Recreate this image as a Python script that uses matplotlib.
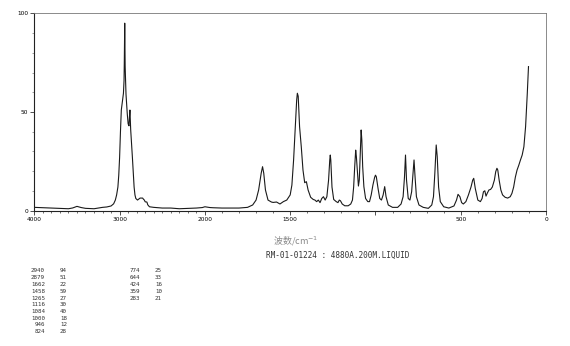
import numpy as np
import matplotlib.pyplot as plt
from matplotlib.ticker import FixedLocator, NullFormatter

# Raman spectrum (wavenumber cm-1, relative intensity)
wavenumber = [
    4000, 3900, 3800, 3700, 3600, 3550, 3500, 3450, 3400, 3300, 3200, 3150, 3100,
    3070, 3050, 3035, 3020, 3010, 3000, 2990, 2980, 2965, 2955, 2948, 2945, 2942,
    2940, 2938, 2935, 2925, 2910, 2900, 2890, 2884, 2879, 2875, 2870, 2860, 2850,
    2840, 2830, 2820, 2810, 2790, 2760, 2730, 2720, 2710, 2700, 2680, 2670, 2650,
    2600, 2500, 2400, 2300, 2200, 2100, 2030, 2000, 1970, 1950, 1900, 1800, 1750,
    1720, 1700, 1685, 1670, 1662, 1655, 1645, 1630, 1610, 1600, 1580, 1560, 1540,
    1520, 1500, 1490, 1480, 1470, 1462, 1458, 1453, 1445, 1435, 1425, 1415, 1405,
    1395, 1380, 1365, 1355, 1345, 1335, 1325, 1315, 1305, 1295, 1285, 1275, 1268,
    1265, 1262, 1255, 1245, 1230, 1220, 1212, 1205, 1195, 1180, 1160, 1145, 1135,
    1128, 1122, 1116, 1112, 1105, 1100, 1095, 1090, 1084, 1080, 1075, 1068, 1058,
    1045, 1035, 1025, 1015, 1005, 1000, 995, 985, 975, 965, 955, 946, 938,
    925, 900, 870, 850, 838, 830, 824, 818, 808, 798, 788, 780, 774,
    768, 760, 745, 720, 690, 670, 660, 652, 644, 638, 630, 620, 600,
    570, 540, 525, 516, 505, 495, 485, 470, 455, 440, 430, 424, 415,
    400, 385, 375, 367, 359, 352, 345, 335, 325, 315, 303, 295, 288,
    283, 275, 265, 255, 240, 225, 210, 200, 190, 180, 170, 160, 150,
    140, 130, 120, 110, 103,
]
intensity = [
    1.7, 1.5, 1.35, 1.2, 1.0, 1.4, 2.2, 1.6, 1.2, 1.0, 1.7, 1.9, 2.4,
    3.5, 5.4, 8.0, 12.0, 18.0, 27.0, 40.0, 51.0, 56.0, 59.5, 66.0, 75.0, 88.0,
    95.0, 86.0, 73.0, 59.0, 49.0, 44.0, 43.0, 48.0, 51.0, 46.0, 41.0, 34.0, 27.0,
    19.0, 12.0, 8.0, 6.2, 5.4, 6.4, 6.4, 5.8, 5.4, 4.5, 4.4, 3.0, 2.0,
    1.7, 1.35, 1.35, 1.0, 1.2, 1.35, 1.6, 2.0, 1.6, 1.5, 1.35, 1.35, 1.7,
    2.9, 5.4, 10.5, 19.0, 22.3, 19.0, 10.5, 5.4, 4.4, 4.2, 4.4, 3.4, 4.6,
    5.4, 8.0, 13.0, 25.7, 42.6, 56.0, 59.5, 58.0, 42.6, 32.4, 20.6, 14.2, 14.7,
    10.5, 6.8, 5.7, 5.4, 4.6, 5.4, 4.1, 6.2, 7.1, 5.4, 7.1, 15.5, 25.7,
    28.2, 25.7, 12.0, 5.7, 4.6, 4.1, 5.4, 5.0, 3.4, 2.5, 2.5, 3.4, 5.4,
    12.0, 22.0, 30.7, 27.4, 19.0, 12.5, 15.5, 27.4, 40.9, 35.8, 22.3, 12.2, 6.2,
    4.6, 4.6, 8.0, 13.0, 16.9, 18.0, 17.2, 11.3, 6.2, 5.4, 8.0, 12.2, 7.1,
    2.9, 1.7, 1.7, 3.4, 7.1, 17.0, 28.2, 15.5, 6.2, 5.4, 9.6, 19.0, 25.7,
    17.2, 7.1, 2.9, 1.7, 1.2, 2.9, 7.1, 19.0, 33.3, 27.4, 12.0, 4.6, 2.0,
    1.35, 2.4, 5.4, 8.3, 7.1, 4.1, 3.4, 4.6, 8.0, 12.0, 15.5, 16.4, 11.3,
    5.4, 4.6, 6.2, 9.6, 10.1, 7.4, 8.8, 10.5, 10.8, 12.0, 15.5, 19.8, 21.5,
    20.6, 15.5, 10.5, 8.0, 6.8, 6.4, 7.1, 8.8, 12.0, 17.0, 20.6, 23.0, 25.7,
    28.2, 32.4, 42.6, 59.5, 73.0,
]

# peak list printed under the chart
peak_wn = [2940, 2879, 1662, 1458, 1265, 1116, 1084, 1000, 946, 824,
           774, 644, 424, 359, 283]
peak_int = [94, 51, 22, 59, 27, 30, 40, 18, 12, 28, 25, 33, 16, 10, 21]

major_ticks = [4000, 3000, 2000, 1500, 1000, 500, 0]
major_labels = ["4000", "3000", "2000", "1500", "", "500", "0"]


def fwd(w):
    # region above 2000 cm-1 is drawn at half scale
    w = np.asarray(w, dtype=float)
    return np.where(w <= 2000, w, 2000 + (w - 2000) / 2)


def inv(u):
    u = np.asarray(u, dtype=float)
    return np.where(u <= 2000, u, 2000 + 2 * (u - 2000))


fig = plt.figure(figsize=(5.7, 3.46), dpi=100)
ax = fig.add_axes([0.0602, 0.391, 0.8978, 0.5706])

ax.plot(wavenumber, intensity, color="#1a1a1a", linewidth=0.8)

ax.set_xscale("function", functions=(fwd, inv))
ax.set_xlim(4000, 0)
ax.set_ylim(0, 100)

ax.xaxis.set_major_locator(FixedLocator(major_ticks))
ax.set_xticklabels(major_labels)
ax.xaxis.set_minor_locator(FixedLocator(np.arange(0, 4001, 100)))
ax.xaxis.set_minor_formatter(NullFormatter())
ax.set_yticks([0, 50, 100])
ax.yaxis.set_minor_locator(FixedLocator(np.arange(0, 101, 10)))

ax.tick_params(axis="both", which="major", labelsize=4.2, length=3,
               width=0.6, pad=1.5, color="#333333")
ax.tick_params(axis="x", which="minor", length=1.5, width=0.5,
               color="#333333")
ax.tick_params(axis="y", which="minor", length=1.2, width=0.4,
               color="#555555")
for side in ["top", "right"]:
    ax.spines[side].set_color("#777777")
    ax.spines[side].set_linewidth(0.6)
for side in ["left", "bottom"]:
    ax.spines[side].set_color("#222222")
    ax.spines[side].set_linewidth(0.8)


def px(x, y):
    return x / 570, 1 - y / 346


fig.text(*px(296, 241), "波数/cm$^{-1}$", ha="center", va="center",
         fontsize=6.5, color="#8a8a8a",
         family=["Noto Sans CJK SC", "DejaVu Sans"])
fig.text(*px(338, 255), "RM-01-01224 : 4880A.200M.LIQUID", ha="center",
         va="center", fontsize=5.6, color="#333333", family="DejaVu Sans Mono")

for i, (w, v) in enumerate(zip(peak_wn, peak_int)):
    col = i // 10
    row = i % 10
    y = 271 + row * 6.75
    x0 = 45 + col * 95
    fig.text(*px(x0, y), str(w), ha="right", va="center", fontsize=4.2,
             color="#333333", family="DejaVu Sans Mono")
    fig.text(*px(x0 + 15, y), str(v), ha="left", va="center", fontsize=4.2,
             color="#333333", family="DejaVu Sans Mono")

fig.savefig("out.png", dpi=100)
